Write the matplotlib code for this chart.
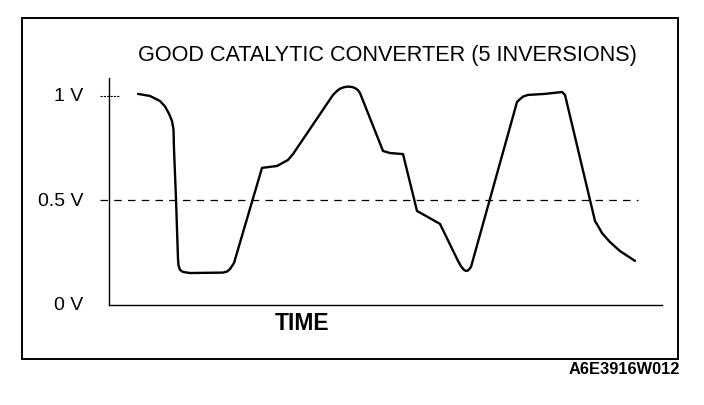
import matplotlib
matplotlib.use("Agg")
import matplotlib.pyplot as plt
from matplotlib.patches import Rectangle

plt.rcParams['font.family'] = ['Liberation Sans', 'DejaVu Sans']

# Sensor voltage trace (time in arbitrary units, voltage in V)
time = [29, 41, 51, 56, 60, 63, 64.5, 65, 67, 69, 69.5, 71, 74, 81, 114, 118, 121,
        125, 153, 168, 179, 184, 224, 228, 231, 235, 239, 243, 246, 249, 251, 274,
        281, 294, 308, 331, 349, 352, 355, 357, 359, 362, 408, 411, 414, 419, 436,
        453, 456, 486, 490, 493, 501, 511, 526]
voltage = [1.01, 1.00, 0.976, 0.95, 0.915, 0.88, 0.84, 0.746, 0.507, 0.22, 0.19,
           0.168, 0.158, 0.153, 0.155, 0.16, 0.172, 0.201, 0.656, 0.665, 0.694,
           0.722, 1.005, 1.024, 1.035, 1.042, 1.045, 1.043, 1.038, 1.028, 1.014,
           0.737, 0.727, 0.722, 0.45, 0.388, 0.211, 0.185, 0.168, 0.163, 0.165,
           0.182, 0.971, 0.985, 0.997, 1.005, 1.01, 1.019, 1.005, 0.402, 0.37,
           0.344, 0.301, 0.258, 0.211]
y_labels = ["1 V", "0.5 V", "0 V"]
y_label_vals = [1.0, 0.5, 0.0]
title = "GOOD CATALYTIC CONVERTER (5 INVERSIONS)"
xlabel = "TIME"
code = "A6E3916W012"

W, H = 704, 406
fig = plt.figure(figsize=(W / 100, H / 100), dpi=100)
fig.patch.set_facecolor("white")

# outer frame
fig.add_artist(Rectangle((22 / W, 1 - 360 / H), (678 - 22) / W, (360 - 19) / H,
                         transform=fig.transFigure, fill=False, lw=1.4, ec="black"))

ax = fig.add_axes([109 / W, 1 - 306 / H, (662 - 109) / W, (306 - 79) / H])
ax.set_xlim(0, 553)
ax.set_ylim(0, 1.086)
for s in ["top", "right"]:
    ax.spines[s].set_visible(False)
ax.spines["left"].set_linewidth(1.0)
ax.spines["bottom"].set_linewidth(1.0)
ax.set_xticks([])
ax.set_yticks([])

ax.plot(time, voltage, color="black", lw=1.7, solid_joinstyle="round",
        solid_capstyle="round")

# reference lines
ax.axhline(0.5, xmin=-9 / 553, xmax=(638 - 109) / 553, color="black", lw=0.9,
           dashes=(6, 5), clip_on=False)
ax.axhline(1.0, xmin=-9 / 553, xmax=11 / 553, color="black", lw=0.8,
           linestyle=(0, (2, 1)), clip_on=False)

for lab, v in zip(y_labels, y_label_vals):
    ax.annotate(lab, xy=(0, v), xycoords=("axes fraction", "data"),
                xytext=(-26 / 1.389, 0), textcoords="offset points",
                ha="right", va="center", fontsize=14)

fig.text(387 / W, 1 - 55 / H, title, ha="center", va="center", fontsize=15.6)
fig.text(302 / W, 1 - 324 / H, xlabel, ha="center", va="center", fontsize=16.5,
         fontweight="bold")
fig.text(680 / W, 1 - 370 / H, code, ha="right", va="center", fontsize=11.8,
         fontweight="bold")

fig.savefig("out.png", dpi=100, facecolor="white")
